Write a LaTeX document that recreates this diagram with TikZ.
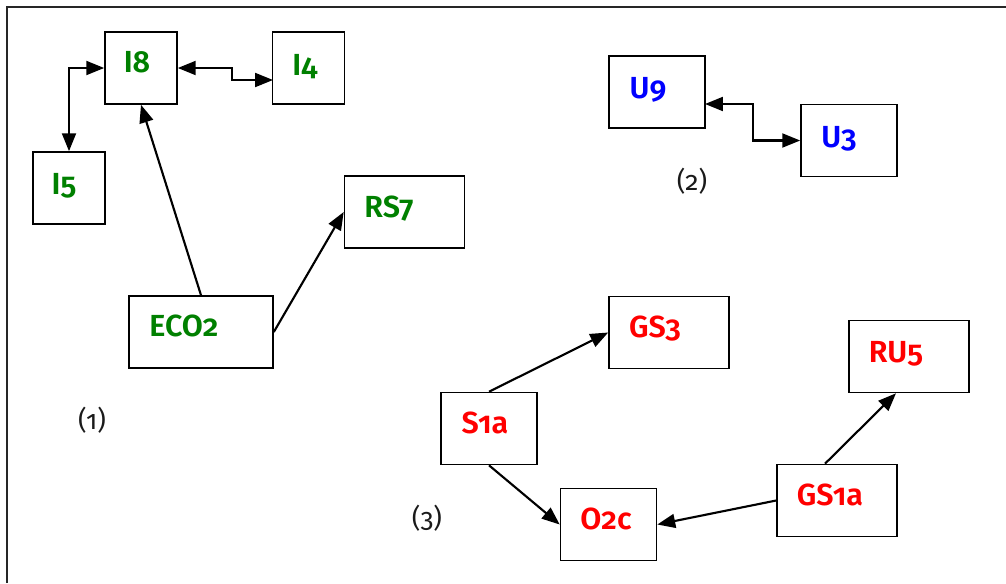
\documentclass[tikz,border=0pt]{standalone}
\usepackage{fontspec}
\setmainfont{Fira Sans}[Numbers=OldStyle, BoldFont={Fira Sans SemiBold}]
\usepackage{xcolor}
\definecolor{GrpGreen}{HTML}{008000}
\definecolor{GrpBlue}{HTML}{0000FF}
\definecolor{GrpRed}{HTML}{FF0000}
\definecolor{TagGray}{HTML}{1A1A1A}
\usetikzlibrary{arrows.meta, calc}

\begin{document}
\begin{tikzpicture}[x=0.0265cm, y=-0.0265cm,
    >={Triangle[length=13.5pt, width=10.5pt]},
    box/.style={draw, line width=1.2pt, inner sep=0pt,
      minimum height=72*0.0265cm, minimum width=#1*0.0265cm},
    tag/.style={anchor=base, font=\fontsize{23}{26}\selectfont\bfseries},
    grp/.style={anchor=base, TagGray, font=\fontsize{20}{24}\selectfont},
    link/.style={line width=1.6pt}]
  % page in pixel units, y pointing down
  \useasboundingbox (0,0) rectangle (1006,583);
  \draw[line width=1.2pt, black!85] (7,583) -- (7,7) -- (1006,7);

  % group (1)
  \node[box=72]  (I8)   at (141,68)  {};
  \node[box=72]  (I4)   at (308.5,68) {};
  \node[box=72]  (I5)   at (69,188)  {};
  \node[box=120] (RS7)  at (404.5,212) {};
  \node[box=144] (ECO2) at (201,332) {};
  \node[tag, GrpGreen] (i8txt)   at (137,72)  {I8};
  \node[tag, GrpGreen] (i4txt)   at (305,75)  {I4};
  \node[tag, GrpGreen] (i5txt)   at (64,194)  {I5};
  \node[tag, GrpGreen] (rs7txt)  at (389,217) {RS7};
  \node[tag, GrpGreen] (eco2txt) at (184,336) {ECO2};
  \node[grp] (grpA) at (92,429) {(1)};

  % group (2)
  \node[box=96] (U9) at (657,92)    {};
  \node[box=96] (U3) at (849,140.5) {};
  \node[tag, GrpBlue] (u9txt) at (648,98)  {U9};
  \node[tag, GrpBlue] (u3txt) at (839,147) {U3};
  \node[grp] (grpB) at (692,190) {(2)};

  % group (3)
  \node[box=120] (GS3)  at (669,332.5) {};
  \node[box=120] (RU5)  at (909,356.5) {};
  \node[box=96]  (S1a)  at (489,428.5) {};
  \node[box=96]  (O2c)  at (608.5,524.5) {};
  \node[box=120] (GS1a) at (837,500.5) {};
  \node[tag, GrpRed] (gs3txt)  at (655,337) {GS3};
  \node[tag, GrpRed] (ru5txt)  at (896,362) {RU5};
  \node[tag, GrpRed] (s1atxt)  at (485,433) {S1a};
  \node[tag, GrpRed] (o2ctxt)  at (606,529) {O2c};
  \node[tag, GrpRed] (gs1atxt) at (830,505) {GS1a};
  \node[grp] (grpC) at (427,527) {(3)};

  % free ends of the stepped links
  \coordinate (i4in)  at (273,80);
  \coordinate (u9out) at (705,104);

  % links
  \draw[link, <->] (I5.north) |- (I8.west);
  \draw[link, <->] (I8.east) -- ++(54,0) |- (i4in);
  \draw[link, ->] (ECO2.north) -- (I8.south);
  \draw[link, ->] (ECO2.east) -- (RS7.west);
  \draw[link, <->] (u9out) -- ++(48,0) |- (U3.west);
  \draw[link, ->] (S1a.north) -- (GS3.west);
  \draw[link, ->] (S1a.south) -- (O2c.west);
  \draw[link, ->] (GS1a.west) -- (O2c.east);
  \draw[link, ->] ($(GS1a.north)+(-12,0)$) -- ($(RU5.south)+(-13,0)$);
\end{tikzpicture}
\end{document}
